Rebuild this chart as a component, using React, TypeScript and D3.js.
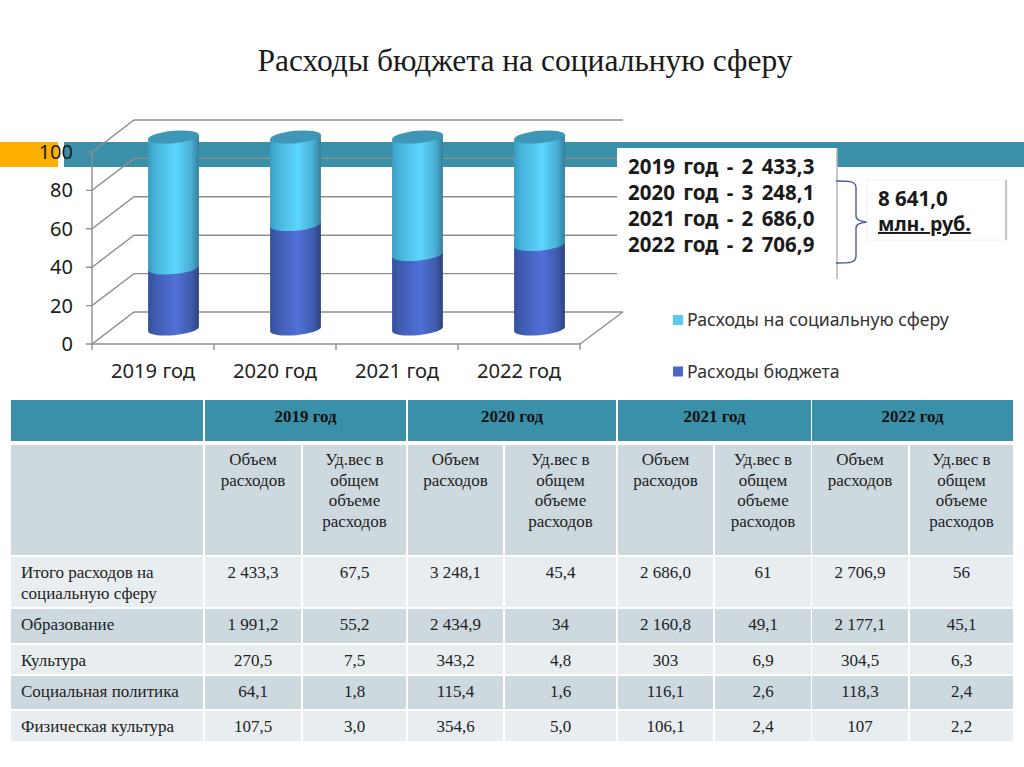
import React, { useMemo } from 'react';
import * as d3 from 'd3';

const W = 1024;
const H = 767;

const TITLE = 'Расходы бюджета на социальную сферу';

// chart values
const YEARS = ['2019 год', '2020 год', '2021 год', '2022 год'];
const BUDGET_SHARE = [31.8, 54.4, 38.8, 44];
const SOCIAL_SHARE = [68.2, 45.6, 61.2, 56];
const Y_TICKS = [0, 20, 40, 60, 80, 100];
const LEGEND_LABELS = ['Расходы на социальную сферу', 'Расходы бюджета'];
const TOTAL_LINES = ['2019 год - 2 433,3', '2020 год - 3 248,1', '2021 год - 2 686,0', '2022 год - 2 706,9'];
const SUM_VALUE = '8 641,0';
const SUM_UNIT = 'млн. руб.';

// table values
const SUB_HEAD_VOLUME = ['Объем', 'расходов'];
const SUB_HEAD_SHARE = ['Уд.вес в', 'общем', 'объеме', 'расходов'];
const ROW_LABELS = [
  ['Итого расходов на', 'социальную сферу'],
  ['Образование'],
  ['Культура'],
  ['Социальная политика'],
  ['Физическая культура'],
];
const ROW_TOTAL = ['2 433,3', '67,5', '3 248,1', '45,4', '2 686,0', '61', '2 706,9', '56'];
const ROW_EDU = ['1 991,2', '55,2', '2 434,9', '34', '2 160,8', '49,1', '2 177,1', '45,1'];
const ROW_CULT = ['270,5', '7,5', '343,2', '4,8', '303', '6,9', '304,5', '6,3'];
const ROW_SOC = ['64,1', '1,8', '115,4', '1,6', '116,1', '2,6', '118,3', '2,4'];
const ROW_SPORT = ['107,5', '3,0', '354,6', '5,0', '106,1', '2,4', '107', '2,2'];
const ROWS = [ROW_TOTAL, ROW_EDU, ROW_CULT, ROW_SOC, ROW_SPORT];

// layout
const AX = { left: 92, right: 580, bottom: 344, top: 152 };
const DEPTH = { x: 42, y: -32 };
const CYL_DX = 81.5;
const CYL_DY = -15;
const RX = 25.5;
const RY = 6.2;
const TILT = -5;

const TEAL = '#3a90a9';
const GRID = '#8f8f8f';
const SANS = '"Noto Sans", sans-serif';
const SERIF = '"Liberation Serif", serif';

const COL_KEYS = d3.range(9);
const colX0 = d3.scaleOrdinal<number, number>(COL_KEYS, [11, 205, 303, 408, 505, 618, 715, 812, 910]);
const colX1 = d3.scaleOrdinal<number, number>(COL_KEYS, [203, 301, 406, 503, 616, 713, 811, 908, 1013]);
const ROW_KEYS = d3.range(5);
const rowY0 = d3.scaleOrdinal<number, number>(ROW_KEYS, [557, 609, 645, 676, 711]);
const rowY1 = d3.scaleOrdinal<number, number>(ROW_KEYS, [607, 643, 674, 709, 741]);
const rowText = d3.scaleOrdinal<number, number>(ROW_KEYS, [573, 625, 661, 692, 727]);

export default function App() {
  const x = useMemo(() => d3.scaleBand<string>().domain(YEARS).range([AX.left, AX.right]), []);
  const y = useMemo(() => d3.scaleLinear().domain([0, 100]).range([AX.bottom, AX.top]), []);

  const stacked = useMemo(() => {
    const rows = YEARS.map((year, i) => ({ year, budget: BUDGET_SHARE[i], social: SOCIAL_SHARE[i] }));
    return d3.stack<any>().keys(['budget', 'social'])(rows);
  }, []);

  const ex = RX * Math.cos((TILT * Math.PI) / 180);
  const ey = RX * Math.sin((TILT * Math.PI) / 180);

  const cylPath = (cx: number, v0: number, v1: number) => {
    const yb = y(v0) + CYL_DY;
    const yt = y(v1) + CYL_DY;
    return `M${cx - ex},${yt - ey}L${cx - ex},${yb - ey}A${RX},${RY} ${TILT} 0 0 ${cx + ex},${yb + ey}L${cx + ex},${yt + ey}Z`;
  };

  const brace = d3.path();
  brace.moveTo(836, 181);
  brace.bezierCurveTo(850, 181, 856, 181, 856, 188);
  brace.lineTo(856, 216);
  brace.bezierCurveTo(856, 220, 860, 221, 867, 222);
  brace.bezierCurveTo(860, 223, 856, 224, 856, 228);
  brace.lineTo(856, 256);
  brace.bezierCurveTo(856, 263, 850, 263, 836, 263);

  return (
    <svg
      width={W}
      height={H}
      viewBox={`0 0 ${W} ${H}`}
      style={{ position: 'absolute', left: 0, top: 0, background: '#fff' }}
    >
      <defs>
        <linearGradient id="cyl-light" x1="0" x2="1" y1="0" y2="0">
          <stop offset="0" stopColor="#3a9cc0" />
          <stop offset="0.12" stopColor="#45b0d8" />
          <stop offset="0.55" stopColor="#5dd6ff" />
          <stop offset="0.85" stopColor="#47aed2" />
          <stop offset="1" stopColor="#347f9c" />
        </linearGradient>
        <linearGradient id="cyl-dark" x1="0" x2="1" y1="0" y2="0">
          <stop offset="0" stopColor="#344f9c" />
          <stop offset="0.15" stopColor="#3f5cb0" />
          <stop offset="0.55" stopColor="#5170d8" />
          <stop offset="0.85" stopColor="#3f5cae" />
          <stop offset="1" stopColor="#2d427f" />
        </linearGradient>
      </defs>

      <text x={525} y={71} textAnchor="middle" fontFamily={SERIF} fontSize={31.5} fill="#1a1a1a">
        {TITLE}
      </text>

      {/* Slide stripes behind the chart */}
      <rect x={0} y={142} width={58} height={25} fill="#ffb000" />
      <rect x={64} y={142} width={960} height={25} fill={TEAL} />

      {/* Walls */}
      <g stroke={GRID} strokeWidth={1.4} fill="none">
        {Y_TICKS.map((t) => (
          <path
            key={t}
            d={`M${AX.left - 6},${y(t)}L${AX.left},${y(t)}L${AX.left + DEPTH.x},${y(t) + DEPTH.y}L${AX.right + DEPTH.x + 1},${y(t) + DEPTH.y}`}
          />
        ))}
        <line x1={AX.left} x2={AX.left} y1={y(100)} y2={AX.bottom + 6} />
        <line x1={AX.left} x2={AX.right} y1={AX.bottom} y2={AX.bottom} />
        <line x1={AX.right} x2={AX.right + DEPTH.x + 1} y1={AX.bottom} y2={AX.bottom + DEPTH.y} />
        {YEARS.map((d) => (
          <line key={d} x1={x(d)! + x.bandwidth()} x2={x(d)! + x.bandwidth()} y1={AX.bottom} y2={AX.bottom + 6} />
        ))}
      </g>

      {/* Y tick labels */}
      {Y_TICKS.map((t) => (
        <text key={t} x={73} y={y(t) + 7} textAnchor="end" fontFamily={SANS} fontSize={20} fill="#1a1a1a">
          {t}
        </text>
      ))}

      {/* X tick labels */}
      {YEARS.map((d) => (
        <text
          key={d}
          x={x(d)! + x.bandwidth() / 2}
          y={378}
          textAnchor="middle"
          fontFamily={SANS}
          fontSize={20.2}
          fill="#222"
        >
          {d}
        </text>
      ))}

      {/* Cylinders: dark part first, the light part overlaps its top edge */}
      {YEARS.map((d, i) => {
        const cx = x(d)! + CYL_DX;
        const [b, s] = stacked;
        return (
          <g key={d}>
            <path d={cylPath(cx, b[i][0], b[i][1])} fill="url(#cyl-dark)" />
            <path d={cylPath(cx, s[i][0], s[i][1])} fill="url(#cyl-light)" />
            <ellipse
              cx={cx}
              cy={y(s[i][1]) + CYL_DY}
              rx={RX}
              ry={RY}
              transform={`rotate(${TILT} ${cx} ${y(s[i][1]) + CYL_DY})`}
              fill="#3f97b8"
            />
          </g>
        );
      })}

      {/* Totals box */}
      <rect x={617} y={148} width={220} height={131} fill="#fff" />
      <line x1={837} x2={837} y1={148} y2={279} stroke="#b5b5b5" strokeWidth={1.5} />
      {TOTAL_LINES.map((t, i) => (
        <text
          key={t}
          x={628}
          y={174 + i * 25.9}
          fontFamily={SANS}
          fontSize={20.5}
          fontWeight={700}
          wordSpacing={3}
          fill="#1a1a1a"
        >
          {t}
        </text>
      ))}
      <path d={brace.toString()} fill="none" stroke="#4e5c9c" strokeWidth={1.4} />

      <rect x={867} y={180} width={140} height={60} fill="#fff" stroke="#f0f0f0" />
      <line x1={1006} x2={1006} y1={180} y2={240} stroke="#b5b5b5" strokeWidth={1.5} />
      <text x={878} y={206} fontFamily={SANS} fontSize={20.5} fontWeight={700} fill="#1a1a1a">
        {SUM_VALUE}
      </text>
      <text
        x={878}
        y={231}
        fontFamily={SANS}
        fontSize={19.6}
        fontWeight={700}
        textDecoration="underline"
        fill="#1a1a1a"
      >
        {SUM_UNIT}
      </text>

      {/* Legend */}
      {LEGEND_LABELS.map((t, i) => (
        <g key={t}>
          <rect x={673} y={315 + i * 51.5} width={10} height={10} fill={i === 0 ? '#5bc8ee' : '#4a66c8'} />
          <text x={687} y={326 + i * 51.5} fontFamily={SANS} fontSize={17.7} fill="#333">
            {t}
          </text>
        </g>
      ))}

      {/* Table: year header */}
      <rect x={colX0(0)} y={400} width={colX1(0) - colX0(0)} height={41} fill={TEAL} />
      {YEARS.map((d, i) => {
        const x0 = colX0(i * 2 + 1);
        const x1 = colX1(i * 2 + 2);
        return (
          <g key={d}>
            <rect x={x0} y={400} width={x1 - x0} height={41} fill={TEAL} />
            <text
              x={(x0 + x1) / 2}
              y={422}
              textAnchor="middle"
              fontFamily={SERIF}
              fontSize={17}
              fontWeight={700}
              fill="#111"
            >
              {d}
            </text>
          </g>
        );
      })}

      {/* Table: sub header */}
      {COL_KEYS.map((c) => (
        <rect key={c} x={colX0(c)} y={445} width={colX1(c) - colX0(c)} height={110} fill="#cdd9df" />
      ))}
      {COL_KEYS.slice(1).map((c) =>
        (c % 2 === 1 ? SUB_HEAD_VOLUME : SUB_HEAD_SHARE).map((t, i) => (
          <text
            key={`${c}-${i}`}
            x={(colX0(c) + colX1(c)) / 2}
            y={465 + i * 20.5}
            textAnchor="middle"
            fontFamily={SERIF}
            fontSize={17}
            fill="#222"
          >
            {t}
          </text>
        ))
      )}

      {/* Table: body */}
      {ROW_KEYS.map((r) => (
        <g key={r}>
          {COL_KEYS.map((c) => (
            <rect
              key={c}
              x={colX0(c)}
              y={rowY0(r)}
              width={colX1(c) - colX0(c)}
              height={rowY1(r) - rowY0(r)}
              fill={r % 2 === 0 ? '#e8edf0' : '#cdd9df'}
            />
          ))}
          {ROW_LABELS[r].map((t, i) => (
            <text key={t} x={21} y={rowText(r) + 5 + i * 21} fontFamily={SERIF} fontSize={17} fill="#222">
              {t}
            </text>
          ))}
          {ROWS[r].map((v, i) => (
            <text
              key={i}
              x={(colX0(i + 1) + colX1(i + 1)) / 2}
              y={rowText(r) + 5}
              textAnchor="middle"
              fontFamily={SERIF}
              fontSize={17}
              fill="#222"
            >
              {v}
            </text>
          ))}
        </g>
      ))}
    </svg>
  );
}
